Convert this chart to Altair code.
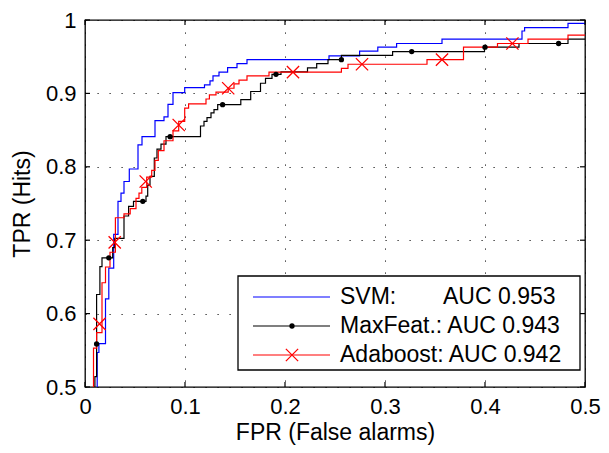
import altair as alt
import pandas as pd

# ---------------- data ----------------
series_names = ["SVM", "MaxFeat.", "Adaboost"]
series_colors = ["#0000ff", "#000000", "#ff0000"]

svm_x = [0.0122, 0.0122, 0.0139, 0.0205, 0.0238, 0.0287, 0.033, 0.036, 0.039, 0.0443,
         0.053, 0.057, 0.070, 0.079, 0.083, 0.088, 0.0997, 0.1195, 0.125, 0.128, 0.134,
         0.1426, 0.152, 0.162, 0.244, 0.2746, 0.2928, 0.3116, 0.357, 0.437, 0.4396, 0.483, 0.5]
svm_y = [0.5, 0.547, 0.559, 0.620, 0.662, 0.708, 0.753, 0.764, 0.780, 0.797,
         0.830, 0.841, 0.863, 0.868, 0.885, 0.901, 0.908, 0.9115, 0.917, 0.924, 0.929,
         0.935, 0.9406, 0.946, 0.951, 0.9576, 0.963, 0.968, 0.974, 0.985, 0.9897, 0.9955, 0.9955]

maxf_x = [0.0099, 0.0099, 0.0116, 0.0149, 0.017, 0.0277, 0.0297, 0.039, 0.0436, 0.0485,
          0.061, 0.0627, 0.065, 0.0693, 0.072, 0.076, 0.081, 0.1155, 0.119, 0.122, 0.126,
          0.129, 0.1327, 0.1558, 0.1657, 0.1755, 0.1805, 0.187, 0.196, 0.2225, 0.2317,
          0.243, 0.2564, 0.3076, 0.3995, 0.434, 0.483, 0.5]
maxf_y = [0.5, 0.514, 0.626, 0.664, 0.676, 0.690, 0.7024, 0.733, 0.746, 0.753,
          0.760, 0.775, 0.787, 0.812, 0.824, 0.831, 0.841, 0.8556, 0.862, 0.867, 0.8736,
          0.878, 0.8847, 0.8914, 0.9026, 0.9138, 0.9205, 0.926, 0.9294, 0.9347, 0.9406,
          0.946, 0.9517, 0.957, 0.963, 0.968, 0.974, 0.974]
maxf_mark_x = [0.0116, 0.0238, 0.0578, 0.0851, 0.1376, 0.191, 0.2564, 0.3267, 0.400, 0.4736]
maxf_mark_y = [0.5586, 0.676, 0.753, 0.841, 0.8847, 0.926, 0.946, 0.957, 0.963, 0.968]

ada_x = [0.0085, 0.0085, 0.0116, 0.017, 0.0205, 0.025, 0.0304, 0.039, 0.0452, 0.051,
         0.054, 0.0568, 0.0617, 0.0667, 0.070, 0.0733, 0.079, 0.088, 0.0937, 0.0997,
         0.1036, 0.121, 0.1244, 0.131, 0.1432, 0.149, 0.154, 0.162, 0.184, 0.2564, 0.263,
         0.342, 0.3785, 0.4125, 0.443, 0.483, 0.5]
ada_y = [0.5, 0.553, 0.574, 0.642, 0.6635, 0.6836, 0.7306, 0.736, 0.743, 0.757,
         0.764, 0.772, 0.786, 0.795, 0.8087, 0.822, 0.8355, 0.849, 0.862, 0.880,
         0.8856, 0.8924, 0.898, 0.9017, 0.907, 0.913, 0.918, 0.924, 0.929, 0.934, 0.9397,
         0.946, 0.963, 0.968, 0.974, 0.9795, 0.9795]
ada_mark_x = [0.0145, 0.0297, 0.0607, 0.0937, 0.1432, 0.208, 0.277, 0.357, 0.4274]
ada_mark_y = [0.586, 0.697, 0.780, 0.857, 0.907, 0.929, 0.9397, 0.946, 0.968]

x_ticks = [0, 0.1, 0.2, 0.3, 0.4, 0.5]
y_ticks = [0.5, 0.6, 0.7, 0.8, 0.9, 1.0]

legend_texts = ["SVM:", "MaxFeat.: AUC 0.943", "Adaboost: AUC 0.942"]
svm_auc_text = ["AUC 0.953"]

# ---------------- layout ----------------
PAD_T, PAD_L, PAD_R = 12, 77, 16
W, H = 500, 379 - PAD_T
FONT = "Liberation Sans"
FS = 22

xs = alt.Scale(domain=[0, 0.5], nice=False, zero=False)
ys = alt.Scale(domain=[0.5, 1.0], nice=False, zero=False)
cs = alt.Scale(domain=series_names, range=series_colors)

x_axis = alt.Axis(values=x_ticks, format="~g", title="FPR (False alarms)", grid=True,
                  gridColor="black", gridDash=[1.2, 10.8], gridWidth=1, gridOpacity=0.9,
                  ticks=False, domain=False, labelFont=FONT, labelFontSize=FS,
                  labelColor="black", labelPadding=9, titleFont=FONT, titleFontSize=FS + 1,
                  titleFontWeight="normal", titleColor="black", titlePadding=4,
                  labelFlush=False)
y_axis = alt.Axis(values=y_ticks, format="~g", title="TPR (Hits)", grid=True,
                  gridColor="black", gridDash=[1.2, 10.8], gridWidth=1, gridOpacity=0.9,
                  ticks=False, domain=False, labelFont=FONT, labelFontSize=FS,
                  labelColor="black", labelPadding=9, titleFont=FONT, titleFontSize=FS + 1,
                  titleFontWeight="normal", titleColor="black", titlePadding=11,
                  labelFlush=False)

X = lambda f="x:Q": alt.X(f, scale=xs, axis=x_axis)
Y = lambda f="y:Q": alt.Y(f, scale=ys, axis=y_axis)


def curve(xv, yv, name):
    return pd.DataFrame({"x": xv, "y": yv, "i": range(len(xv)), "name": name})


def line_layer(df):
    return alt.Chart(df).mark_line(interpolate="step-after", strokeWidth=1.2, clip=True).encode(
        x=X(), y=Y(),
        color=alt.Color("name:N", scale=cs, legend=None),
        order=alt.Order("i:Q"),
    )


svm_layer = line_layer(curve(svm_x, svm_y, "SVM"))
maxf_layer = line_layer(curve(maxf_x, maxf_y, "MaxFeat."))
ada_layer = line_layer(curve(ada_x, ada_y, "Adaboost"))

X_PATH = "M-1,-1L1,1M-1,1L1,-1"

maxf_pts = alt.Chart(pd.DataFrame({"x": maxf_mark_x, "y": maxf_mark_y})).mark_point(
    shape="circle", filled=True, color="black", size=28, opacity=1, clip=True
).encode(x=X(), y=Y())

ada_pts = alt.Chart(pd.DataFrame({"x": ada_mark_x, "y": ada_mark_y})).mark_point(
    shape=X_PATH, filled=False, color="#ff0000", size=150, strokeWidth=1.3, opacity=1, clip=True
).encode(x=X(), y=Y())

# inward tick marks on all four sides
TL = 5
tick_x_df = pd.DataFrame({"x": x_ticks})
tick_y_df = pd.DataFrame({"y": y_ticks})
ticks_bottom = alt.Chart(tick_x_df).mark_rule(color="black", strokeWidth=1.2).encode(
    x=X(), y=alt.value(H), y2=alt.value(H - TL))
ticks_top = alt.Chart(tick_x_df).mark_rule(color="black", strokeWidth=1.2).encode(
    x=X(), y=alt.value(0), y2=alt.value(TL))
ticks_left = alt.Chart(tick_y_df).mark_rule(color="black", strokeWidth=1.2).encode(
    y=Y(), x=alt.value(0), x2=alt.value(TL))
ticks_right = alt.Chart(tick_y_df).mark_rule(color="black", strokeWidth=1.2).encode(
    y=Y(), x=alt.value(W), x2=alt.value(W - TL))

# ---------------- legend (pixel positions inside the plot area) ----------------
OFFY = 14 - (8 + PAD_T)   # keep legend at the reference's page position
OFFX = 86 - (8 + PAD_L)
LEG_L, LEG_R, LEG_T, LEG_B = 152 + OFFX, 494 + OFFX, 262 + OFFY, 356 + OFFY
ROW0, ROW_STEP = 283 + OFFY, 29
leg_df = pd.DataFrame({"name": series_names, "text": legend_texts, "i": [0, 1, 2]})

leg_layers = [
    alt.Chart(pd.DataFrame({"a": [0]})).mark_rect(
        fill="white", stroke="black", strokeWidth=1.3
    ).encode(x=alt.value(LEG_L), x2=alt.value(LEG_R), y=alt.value(LEG_T), y2=alt.value(LEG_B))
]
for k in range(3):
    yk = ROW0 + ROW_STEP * k
    row = alt.Chart(leg_df).transform_filter(f"datum.i == {k}")
    leg_layers.append(row.mark_rule(strokeWidth=1.2).encode(
        x=alt.value(167 + OFFX), x2=alt.value(244 + OFFX), y=alt.value(yk),
        color=alt.Color("name:N", scale=cs, legend=None)))
    leg_layers.append(row.mark_text(align="left", baseline="middle", font=FONT, fontSize=23,
                                    color="black").encode(
        x=alt.value(254 + OFFX), y=alt.value(yk), text="text:N"))
    if k == 1:
        leg_layers.append(row.mark_point(shape="circle", filled=True, color="black", size=28,
                                         opacity=1).encode(x=alt.value(206 + OFFX), y=alt.value(yk)))
    if k == 2:
        leg_layers.append(row.mark_point(shape=X_PATH, filled=False, color="#ff0000", size=150,
                                         strokeWidth=1.3, opacity=1).encode(
            x=alt.value(206 + OFFX), y=alt.value(yk)))

leg_layers.append(alt.Chart(pd.DataFrame({"text": svm_auc_text})).mark_text(
    align="left", baseline="middle", font=FONT, fontSize=23, color="black"
).encode(x=alt.value(357 + OFFX), y=alt.value(ROW0), text="text:N"))

chart = alt.layer(
    svm_layer, maxf_layer, ada_layer, maxf_pts, ada_pts,
    ticks_bottom, ticks_top, ticks_left, ticks_right,
    *leg_layers,
).properties(
    width=W, height=H,
    autosize=alt.AutoSizeParams(type="none"),
    padding={"left": PAD_L, "top": PAD_T, "right": PAD_R, "bottom": 58},
    background="white",
).configure_view(stroke="black", strokeWidth=1.3)

chart.save("out.html", embed_options={"renderer": "svg", "actions": False})
